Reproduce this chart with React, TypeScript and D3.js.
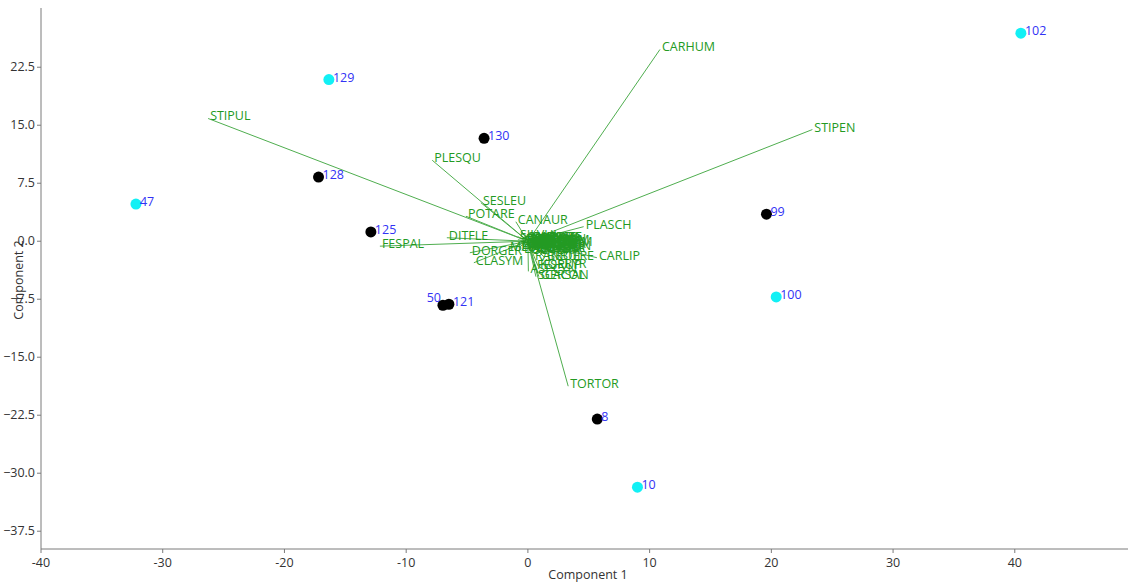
import React from 'react';
import * as d3 from 'd3';

// Sample scores (Component 1, Component 2)
const sampleIds = ['102', '129', '130', '128', '47', '125', '99', '100', '50', '121', '8', '10'];
const sampleX = [40.5, -16.35, -3.6, -17.2, -32.2, -12.9, 19.6, 20.4, -6.98, -6.49, 5.7, 9.0];
const sampleY = [26.9, 20.9, 13.3, 8.3, 4.8, 1.2, 3.5, -7.2, -8.28, -8.15, -23.0, -31.8];
const sampleGroup = ['A', 'A', 'B', 'B', 'A', 'B', 'B', 'A', 'B', 'B', 'B', 'A'];

// Species loadings (biplot vectors)
const speciesNames = [
  'CARHUM', 'STIPEN', 'STIPUL', 'PLESQU', 'FESPAL', 'TORTOR',
  'SESLEU', 'POTARE', 'CANAUR', 'PLASCH', 'DITFLE', 'DORGER', 'CLASYM', 'CARLIP',
  'SALPRA', 'LINCAT', 'THYPUL', 'TEUCHA', 'HIPCOM', 'ANTVUL', 'LOTCOR', 'GALVER',
  'SANMIN', 'HELNUM', 'EUPCYP', 'PRUGRA', 'ONOREP', 'POLCOM', 'SCAGRA', 'GLOPUN',
  'TEUMON', 'BRIMED', 'MEDLUP', 'SILVUL',
  'ACIMIL', 'ARTCAM', 'BUPPRA', 'CENSCA', 'CHAMSP', 'DIAGUT', 'ERYCAM', 'HELAPE',
  'KOEVAL', 'MELCIL', 'ALLSPH', 'ASTALP',
  'RANBUL', 'BROERE', 'FESRUP', 'KOEPYR', 'SCACOL', 'GERSAN', 'ASPCYN',
];
const speciesX = [
  10.85, 23.37, -26.27, -7.86, -12.16, 3.31,
  -3.86, -5.09, -0.99, 4.58, -6.66, -4.77, -4.44, 5.67,
  -0.82, -0.66, -0.41, -0.16, 0.0, 0.16, 0.33, 0.49,
  0.66, 0.0, -0.49, 0.49, -0.25, 0.82, 0.25, -0.33,
  0.66, 0.08, -1.64, -0.82,
  -0.58, -0.08, 0.25, 0.74, 0.41, -0.25, 0.9, 0.58,
  0.12, 0.33, -0.5, 0.2,
  0.41, 1.4, 0.58, 0.82, 0.66, 0.9, 0.04,
];
const speciesY = [
  24.8, 14.44, 15.87, 10.47, -0.64, -18.75,
  4.98, 3.23, 2.52, 1.88, 0.45, -1.49, -2.78, -2.13,
  0.19, -0.71, -0.19, 0.06, -0.45, -0.84, -0.19, -0.58,
  0.06, -1.1, -1.23, -1.1, 0.32, -0.32, -1.36, -0.45,
  -0.84, -0.06, -0.97, 0.58,
  -0.3, -0.9, 0.25, -0.6, -1.0, -0.65, -0.05, 0.3,
  0.2, -0.4, 0.05, -1.2,
  -2.13, -2.13, -3.3, -3.17, -4.59, -4.59, -3.9,
];

const xTicks = [-40, -30, -20, -10, 0, 10, 20, 30, 40];
const yTicks = [-37.5, -30, -22.5, -15, -7.5, 0, 7.5, 15, 22.5];
const xDomain = [-40, 49.3];
const yDomain = [-39.8, 29.9];
const xTitle = 'Component 1';
const yTitle = 'Component 2';

const W = 1128;
const H = 583;
const FONT = '"Open Sans", "Noto Sans", sans-serif';

export default function App() {
  const left = 41, right = 1128, top = 10, bottom = 549;
  const x = d3.scaleLinear().domain(xDomain).range([left, right]);
  const y = d3.scaleLinear().domain(yDomain).range([bottom, top]);
  const groupColor: Record<string, string> = { A: '#12f0f5', B: '#000000' };
  const yFmt = d3.format('.1f');

  return (
    <svg width={W} height={H} style={{ position: 'absolute', left: 0, top: 0, background: '#fff' }}
      fontFamily={FONT}>
      {/* axes */}
      <line x1={left} x2={right} y1={bottom} y2={bottom} stroke="#7a7a7a" strokeWidth={1} />
      <line x1={left} x2={left} y1={top - 2} y2={bottom} stroke="#7a7a7a" strokeWidth={1} />
      {xTicks.map((t) => (
        <g key={'xt' + t}>
          <line x1={x(t)} x2={x(t)} y1={bottom} y2={bottom + 4} stroke="#7a7a7a" />
          <text x={x(t)} y={bottom + 18} textAnchor="middle" fontSize={12.5} fill="#333">{t}</text>
        </g>
      ))}
      {yTicks.map((t) => (
        <g key={'yt' + t}>
          <line x1={left - 4} x2={left} y1={y(t)} y2={y(t)} stroke="#7a7a7a" />
          <text x={left - 6} y={y(t) + 4} textAnchor="end" fontSize={12.5} fill="#333">{yFmt(t)}</text>
        </g>
      ))}
      <text x={588} y={579} textAnchor="middle" fontSize={12.5} fill="#333">{xTitle}</text>
      <text transform={`translate(23,280) rotate(-90)`} textAnchor="middle" fontSize={12.5} fill="#333">{yTitle}</text>

      {/* biplot vectors */}
      {speciesNames.map((n, i) => (
        <line key={'v' + n} x1={x(0)} y1={y(0)} x2={x(speciesX[i])} y2={y(speciesY[i])}
          stroke="#4fae4f" strokeWidth={1} />
      ))}
      {speciesNames.map((n, i) => (
        <text key={'s' + n} x={x(speciesX[i]) + 2} y={y(speciesY[i]) + 2}
          fontSize={12.5} fill="#239a23">{n}</text>
      ))}

      {/* samples */}
      {sampleIds.map((id, i) => (
        <circle key={'p' + id} cx={x(sampleX[i])} cy={y(sampleY[i])} r={5.5}
          fill={groupColor[sampleGroup[i]]} />
      ))}
      {sampleIds.map((id, i) => {
        const px = x(sampleX[i]);
        const py = y(sampleY[i]);
        const leftSide = id === '50';
        return (
          <text key={'l' + id} x={leftSide ? px - 2 : px + 4} y={leftSide ? py - 3 : py + 2}
            textAnchor={leftSide ? 'end' : 'start'} fontSize={12.5} fill="#3232f5">{id}</text>
        );
      })}
    </svg>
  );
}
